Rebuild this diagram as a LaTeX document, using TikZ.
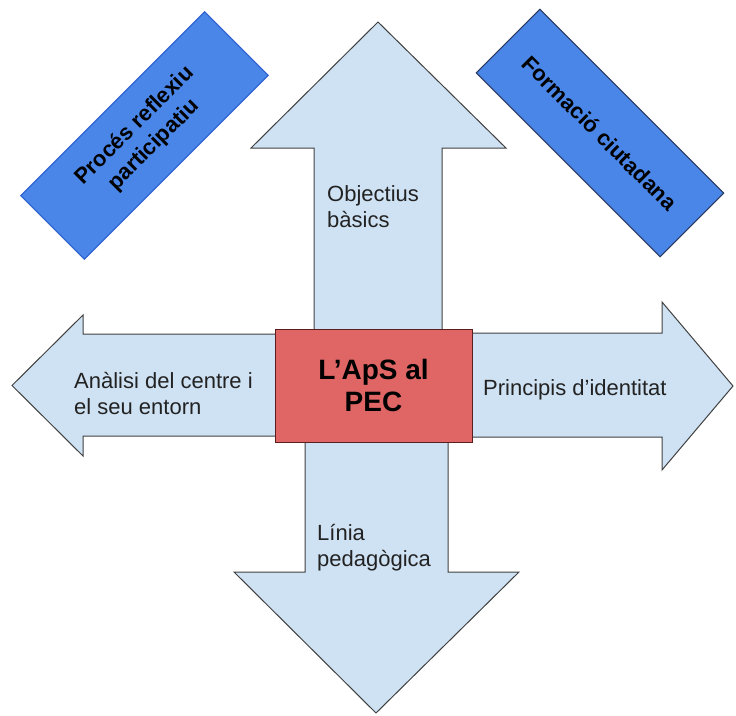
\documentclass[tikz,border=0pt]{standalone}
\usepackage{fontspec}
\setmainfont{Liberation Sans}

\definecolor{fletxaclar}{HTML}{CFE2F3}
\definecolor{vora}{HTML}{404040}
\definecolor{blaubox}{HTML}{4A86E8}
\definecolor{vorablau}{HTML}{2F5FD0}
\definecolor{vorafosca}{HTML}{2B3A60}
\definecolor{vermell}{HTML}{E06666}
\definecolor{voravermell}{HTML}{5A1E1E}
\definecolor{textfosc}{HTML}{222222}

\begin{document}
\begin{tikzpicture}[x=1pt,y=-1pt,
    fletxa/.style={draw=vora,fill=fletxaclar,line width=1pt,line join=miter},
    etiqueta/.style={anchor=base west,inner sep=0pt,align=left,text=textfosc,
      font=\fontsize{22}{25.5}\selectfont},
    caixablau/.style={fill=blaubox,line width=1pt,minimum width=260pt,
      minimum height=90pt,align=center,font=\fontsize{22}{27}\selectfont\bfseries}]
      \useasboundingbox (0,0) rectangle (736,715);

      \draw[fletxa] (314,330) -- (314,148) -- (251,148) -- (378,22) -- (506,148) -- (442,148) -- (442,330) -- cycle; % up arrow
      \draw[fletxa] (305,440) -- (305,572) -- (234,572) -- (376,713) -- (519,572) -- (448,572) -- (448,440) -- cycle; % down arrow
      \draw[fletxa] (280,334) -- (83,334) -- (83,315) -- (12,385.5) -- (83,456) -- (83,436) -- (280,436) -- cycle; % left arrow
      \draw[fletxa] (468,333) -- (662,333) -- (662,302) -- (733,386) -- (662,470) -- (662,437) -- (468,437) -- cycle; % right arrow

      \node[draw=voravermell,fill=vermell,line width=1pt,minimum width=197pt,minimum height=113pt,
        align=center,font=\fontsize{28}{32}\selectfont\bfseries] (aps) at (373.5,385.5) {L'ApS al\\PEC}; % centre

      % base = last line
      \node[etiqueta] (objectius) at (327,227) {Objectius\\bàsics};
      \node[etiqueta] (analisi) at (74,414) {Anàlisi del centre i\\el seu entorn};
      \node[etiqueta] (principis) at (483,395) {Principis d'identitat};
      \node[etiqueta] (linia) at (317,566) {Línia\\pedagògica};

      \node[caixablau,draw=vorablau,rotate=45] (proces) at (144.5,135.5) {Procés reflexiu\\participatiu}; % left box
      \node[caixablau,draw=vorafosca,rotate=-45] (formacio) at (600,133) {Formació ciutadana}; % right box
    \end{tikzpicture}
\end{document}
